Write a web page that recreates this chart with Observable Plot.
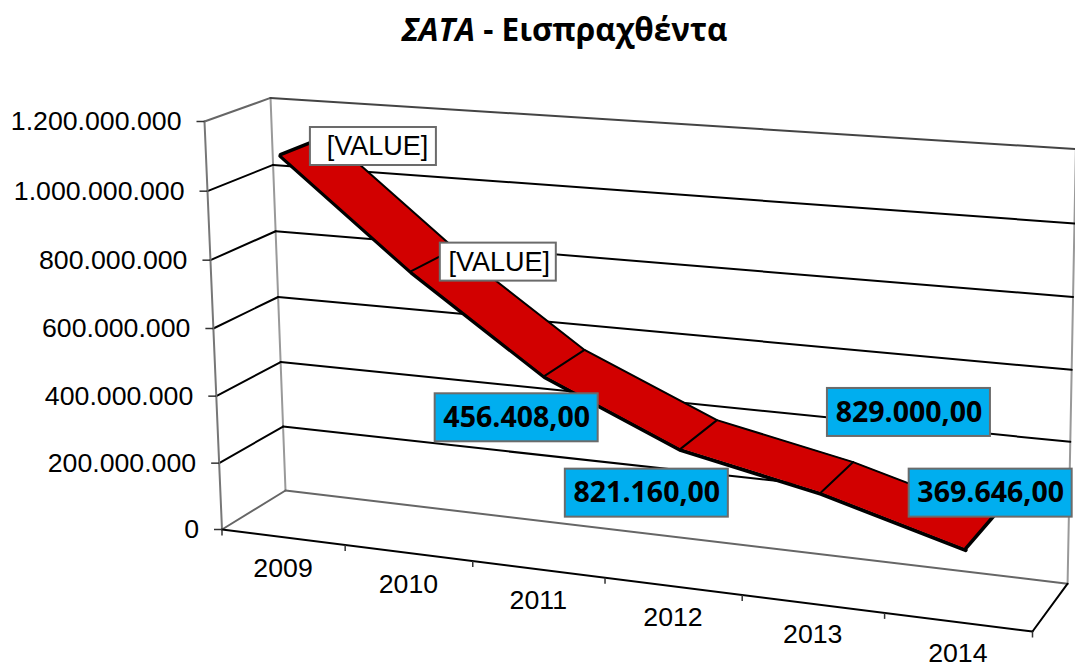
<!DOCTYPE html>
<html><head><meta charset="utf-8">
<script src="https://cdn.jsdelivr.net/npm/d3@7"></script>
<script src="https://cdn.jsdelivr.net/npm/@observablehq/plot@0.6"></script>
<style>
html,body{margin:0;padding:0;background:#fff;overflow:hidden}
#title{height:62px;width:1075px;box-sizing:border-box;padding-top:9px;padding-left:54px;text-align:center;font:bold 31.5px "Open Sans",sans-serif;color:#000;line-height:40px}
#chart svg{display:block}
</style></head><body>
<div id="title"><i>ΣΑΤΑ</i> - Εισπραχθέντα</div>
<div id="chart"></div>
<script>
// --- data ---
const years = ["2009","2010","2011","2012","2013","2014"];
const values = [1105000000, 800000000, 536000000, 369000000, 289000000, 179000000];
const labels = ["[VALUE]","[VALUE]","456.408,00","821.160,00","829.000,00","369.646,00"];
const yTicks = [0,200000000,400000000,600000000,800000000,1000000000,1200000000];
const yTickLabels = ["0","200.000.000","400.000.000","600.000.000","800.000.000","1.000.000.000","1.200.000.000"];

// --- 3D view of the Excel chart box: a projective map of (category, value, depth) ---
const yMax = 1200000000;
const o=[221.5,529], ex=[1032,631], ey=[204,121], ez=[285,490];
const pa=-0.104, pb=-0.029, pc=0.041;
const Ax=ex[0]*(1+pa)-o[0], Ay=ex[1]*(1+pa)-o[1];
const Bx=ey[0]*(1+pb)-o[0], By=ey[1]*(1+pb)-o[1];
const Cx=ez[0]*(1+pc)-o[0], Cy=ez[1]*(1+pc)-o[1];
function proj(u,val,d){
  const v=val/yMax, w=1+pa*u+pb*v+pc*d;
  return [(o[0]+Ax*u+Bx*v+Cx*d)/w,(o[1]+Ay*u+By*v+Cy*d)/w];
}
const seg=(a,b)=>({x1:a[0],y1:a[1],x2:b[0],y2:b[1]});
const dFront=0.18, dBack=0.92;

// gridlines on side + back walls
const inner=yTicks.slice(1,-1);
const sideGrid=inner.map(t=>seg(proj(0,t,0),proj(0,t,1)));
const backGrid=inner.map(t=>seg(proj(0,t,1),proj(1,t,1)));
const grayEdges=[
  seg(proj(0,yMax,0),proj(0,yMax,1)),
  seg(proj(0,0,0),proj(0,0,1)),
  seg(proj(0,0,1),proj(1,0,1))];
const topEdge=[seg(proj(0,yMax,1),proj(1,yMax,1))];
const verticals=[seg(proj(0,0,1),proj(0,yMax,1)),seg(proj(1,0,1),proj(1,yMax,1))];
const frontAxis=[seg(proj(0,0,0),proj(0,yMax,0))];
const floorEdges=[seg(proj(0,0,0),proj(1,0,0)),seg(proj(1,0,0),proj(1,0,1))];
const yTickRows=yTicks.map((t,i)=>{const p=proj(0,t,0);return {x:p[0],y:p[1],label:yTickLabels[i]};});
const xTickRows=d3.range(7).map(i=>{const p=proj(i/6,0,0);return {x:p[0],y:p[1]};});
const xLabelRows=years.map((yr,i)=>{const p=proj((i+.5)/6,0,0);return {x:p[0],y:p[1],label:yr};});

// ribbon
const ribbon=years.map((yr,i)=>{
  const u=(i+.5)/6, f=proj(u,values[i],dFront), b=proj(u,values[i],dBack);
  return {x1:f[0],y1:f[1],x2:b[0],y2:b[1]};
});

// label boxes placed relative to the ribbon vertices
const boxShift=[[93,-8],[87,-9],[-28,42],[-34,44.5],[88,-80],[25,-55.5]];
const boxSize=[[126,38],[116,38],[163,48],[163,48],[163,48],[163,48]];
const textShift=[4,1,0,0,0,0];
const boxes=labels.map((l,i)=>{
  const r=ribbon[i], cx=r.x1+boxShift[i][0], cy=r.y1+boxShift[i][1];
  return {label:l,cx,cy,tx:cx+textShift[i],x1:cx-boxSize[i][0]/2,x2:cx+boxSize[i][0]/2,
    y1:cy-boxSize[i][1]/2,y2:cy+boxSize[i][1]/2,blue:i>=2};
});

const linkOpts=(stroke,w,extra={})=>({x1:"x1",y1:"y1",x2:"x2",y2:"y2",stroke,strokeWidth:w,strokeLinecap:"round",...extra});
const sansFont='"Liberation Sans",Arial,sans-serif';
const plot=Plot.plot({
  width:1075,height:601,margin:0,
  x:{domain:[0,1075],range:[0,1075],axis:null},
  y:{domain:[62,663],range:[0,601],axis:null},
  marks:[
    Plot.link(verticals,linkOpts("#999",2)),
    Plot.link(grayEdges,linkOpts("#666",2)),
    Plot.link(topEdge,linkOpts("#444",2)),
    Plot.link(sideGrid,linkOpts("#000",2)),
    Plot.link(backGrid,linkOpts("#000",2)),
    Plot.link(frontAxis,linkOpts("#777",2)),
    Plot.link(floorEdges,linkOpts("#000",2)),
    Plot.link(yTickRows,{x1:d=>d.x-8,x2:"x",y1:"y",y2:"y",stroke:"#333",strokeWidth:1.5}),
    Plot.link(xTickRows,{x1:"x",x2:"x",y1:"y",y2:d=>d.y+6,stroke:"#333",strokeWidth:1.5}),
    Plot.text(yTickRows,{x:"x",y:"y",text:"label",textAnchor:"end",dx:-23,fontSize:26.7,fontFamily:sansFont,fill:"#000"}),
    Plot.text(xLabelRows,{x:"x",y:"y",text:"label",dy:31,fontSize:26.7,fontFamily:sansFont,fill:"#000"}),
    // ribbon
    Plot.line(ribbon,{x:"x1",y:"y1",stroke:"#000",strokeWidth:4,dy:1.5}),
    Plot.area(ribbon,{x1:"x1",y1:"y1",x2:"x2",y2:"y2",fill:"#d20000"}),
    Plot.line(ribbon,{x:"x2",y:"y2",stroke:"#000",strokeWidth:2}),
    Plot.link(ribbon.slice(1,-1),linkOpts("#000",2)),
    Plot.link([ribbon[0],ribbon[5]],linkOpts("#000",3.5)),
    // labels
    Plot.rect(boxes,{x1:"x1",x2:"x2",y1:"y1",y2:"y2",fill:d=>d.blue?"#00aeef":"#fff",stroke:"#6b6b6b",strokeWidth:2}),
    Plot.text(boxes.filter(d=>!d.blue),{x:"tx",y:"cy",text:"label",fontSize:27,fontFamily:sansFont,fill:"#000"}),
    Plot.text(boxes.filter(d=>d.blue),{x:"tx",y:"cy",text:"label",fontSize:28.5,fontWeight:"bold",fontFamily:'"Open Sans",sans-serif',fill:"#000"})
  ]
});
document.getElementById("chart").append(plot);
</script>
</body></html>
